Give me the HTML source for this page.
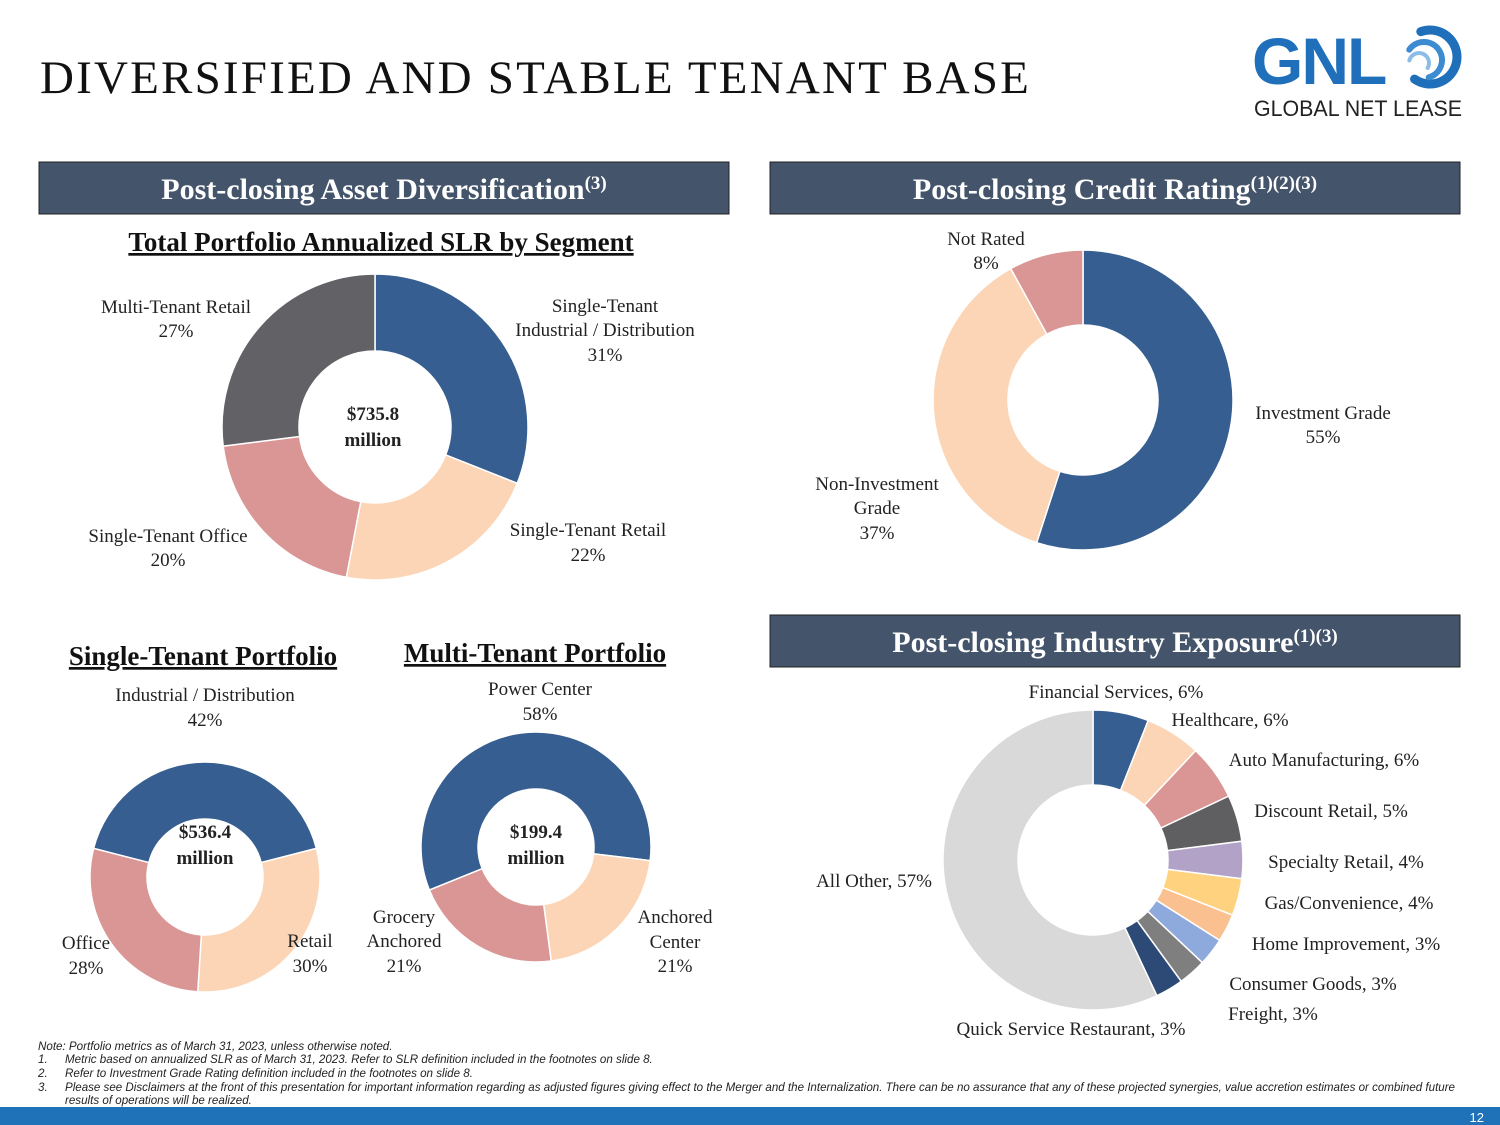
<!DOCTYPE html>
<html><head><meta charset="utf-8"><style>
html,body{margin:0;padding:0;background:#fff;}
svg{display:block;font-family:"Liberation Serif",serif;}
</style></head><body>
<svg id="s" width="1500" height="1125" viewBox="0 0 1500 1125">
<text x="40" y="93" font-size="47" fill="#111" letter-spacing="2.2">DIVERSIFIED AND STABLE TENANT BASE</text>
<g id="logo">
<text x="1252" y="84" font-family="Liberation Sans,sans-serif" font-weight="bold" font-size="66" fill="#1F6FBA" letter-spacing="-2">GNL</text>
<text x="1254" y="116" font-family="Liberation Sans,sans-serif" font-size="22" fill="#222" textLength="208" lengthAdjust="spacingAndGlyphs">GLOBAL NET LEASE</text>
</g>
<g>
<rect x="39" y="162" width="690" height="52" fill="#44546A" stroke="#222" stroke-width="1"/>
<text x="384" y="199" text-anchor="middle" font-size="30" font-weight="bold" fill="#fff">Post-closing Asset Diversification<tspan font-size="19" dy="-10">(3)</tspan></text>
</g>
<g>
<rect x="770" y="162" width="690" height="52" fill="#44546A" stroke="#222" stroke-width="1"/>
<text x="1115" y="199" text-anchor="middle" font-size="30" font-weight="bold" fill="#fff">Post-closing Credit Rating<tspan font-size="19" dy="-10">(1)(2)(3)</tspan></text>
</g>
<g>
<rect x="770" y="615" width="690" height="52" fill="#44546A" stroke="#222" stroke-width="1"/>
<text x="1115" y="652" text-anchor="middle" font-size="30" font-weight="bold" fill="#fff">Post-closing Industry Exposure<tspan font-size="19" dy="-10">(1)(3)</tspan></text>
</g>
<text x="381" y="251" text-anchor="middle" font-size="27" font-weight="bold" text-decoration="underline" fill="#111">Total Portfolio Annualized SLR by Segment</text>
<text x="203" y="665" text-anchor="middle" font-size="27" font-weight="bold" text-decoration="underline" fill="#111">Single-Tenant Portfolio</text>
<text x="535" y="662" text-anchor="middle" font-size="27" font-weight="bold" text-decoration="underline" fill="#111">Multi-Tenant Portfolio</text>
<g id="charts"></g>
<g font-size="19" fill="#222">
<text x="605" y="312" text-anchor="middle">Single-Tenant</text><text x="605" y="336" text-anchor="middle">Industrial / Distribution</text><text x="605" y="361" text-anchor="middle">31%</text>
<text x="588" y="536" text-anchor="middle">Single-Tenant Retail</text><text x="588" y="561" text-anchor="middle">22%</text>
<text x="168" y="542" text-anchor="middle">Single-Tenant Office</text><text x="168" y="566" text-anchor="middle">20%</text>
<text x="176" y="313" text-anchor="middle">Multi-Tenant Retail</text><text x="176" y="337" text-anchor="middle">27%</text>
<text x="373" y="420" text-anchor="middle" font-weight="bold">$735.8</text><text x="373" y="446" text-anchor="middle" font-weight="bold">million</text>
<text x="986" y="245" text-anchor="middle">Not Rated</text><text x="986" y="269" text-anchor="middle">8%</text>
<text x="1323" y="419" text-anchor="middle">Investment Grade</text><text x="1323" y="443" text-anchor="middle">55%</text>
<text x="877" y="490" text-anchor="middle">Non-Investment</text><text x="877" y="514" text-anchor="middle">Grade</text><text x="877" y="539" text-anchor="middle">37%</text>
<text x="205" y="701" text-anchor="middle">Industrial / Distribution</text><text x="205" y="726" text-anchor="middle">42%</text>
<text x="310" y="947" text-anchor="middle">Retail</text><text x="310" y="972" text-anchor="middle">30%</text>
<text x="86" y="949" text-anchor="middle">Office</text><text x="86" y="974" text-anchor="middle">28%</text>
<text x="205" y="838" text-anchor="middle" font-weight="bold">$536.4</text><text x="205" y="864" text-anchor="middle" font-weight="bold">million</text>
<text x="540" y="695" text-anchor="middle">Power Center</text><text x="540" y="720" text-anchor="middle">58%</text>
<text x="404" y="923" text-anchor="middle">Grocery</text><text x="404" y="947" text-anchor="middle">Anchored</text><text x="404" y="972" text-anchor="middle">21%</text>
<text x="675" y="923" text-anchor="middle">Anchored</text><text x="675" y="948" text-anchor="middle">Center</text><text x="675" y="972" text-anchor="middle">21%</text>
<text x="536" y="838" text-anchor="middle" font-weight="bold">$199.4</text><text x="536" y="864" text-anchor="middle" font-weight="bold">million</text>
</g>
<g font-size="19" fill="#222" id="indLabels"></g>
<g font-family="Liberation Sans,sans-serif" font-style="italic" font-size="11.6" fill="#222">
<text x="38" y="1050">Note: Portfolio metrics as of March 31, 2023, unless otherwise noted.</text>
<text x="38" y="1063">1.</text><text x="65" y="1063">Metric based on annualized SLR as of March 31, 2023. Refer to SLR definition included in the footnotes on slide 8.</text>
<text x="38" y="1077">2.</text><text x="65" y="1077">Refer to Investment Grade Rating definition included in the footnotes on slide 8.</text>
<text x="38" y="1091">3.</text><text x="65" y="1091" textLength="1390" lengthAdjust="spacingAndGlyphs">Please see Disclaimers at the front of this presentation for important information regarding as adjusted figures giving effect to the Merger and the Internalization. There can be no assurance that any of these projected synergies, value accretion estimates or combined future</text>
<text x="65" y="1104">results of operations will be realized.</text>
</g>
<rect x="0" y="1107" width="1500" height="18" fill="#1F72B8"/>
<text x="1484" y="1122" text-anchor="end" font-family="Liberation Sans,sans-serif" font-size="13" fill="#fff">12</text>
</svg>
<script>
const segmentNames = ["Single-Tenant Industrial / Distribution","Single-Tenant Retail","Single-Tenant Office","Multi-Tenant Retail"];
const segmentValues = [31,22,20,27];
const creditNames = ["Investment Grade","Non-Investment Grade","Not Rated"];
const creditValues = [55,37,8];
const singleNames = ["Industrial / Distribution","Retail","Office"];
const singleValues = [42,30,28];
const multiNames = ["Power Center","Anchored Center","Grocery Anchored"];
const multiValues = [58,21,21];
const industryNames = ["Financial Services","Healthcare","Auto Manufacturing","Discount Retail","Specialty Retail","Gas/Convenience","Home Improvement","Consumer Goods","Freight","Quick Service Restaurant","All Other"];
const industryValues = [6,6,6,5,4,4,3,3,3,3,57];

const NS="http://www.w3.org/2000/svg";
const g=document.getElementById('charts');
function pt(cx,cy,r,a){const t=a*Math.PI/180;return [cx+r*Math.sin(t),cy-r*Math.cos(t)];}
// logo arcs
const logo=document.getElementById('logo');
[[1430,57,27,-20,215,9,'#1F6FBA'],[1424,60,18,-55,165,6,'#3D8BD0'],[1419,63,10,-75,120,4,'#8DBDE6']].forEach(a=>{
  const p1=pt(a[0],a[1],a[2],a[3]),p2=pt(a[0],a[1],a[2],a[4]);
  const p=document.createElementNS(NS,'path');
  p.setAttribute('d',`M${p1[0]} ${p1[1]}A${a[2]} ${a[2]} 0 ${a[4]-a[3]>180?1:0} 1 ${p2[0]} ${p2[1]}`);
  p.setAttribute('fill','none');p.setAttribute('stroke',a[6]);p.setAttribute('stroke-width',a[5]);p.setAttribute('stroke-linecap','round');
  
  
  logo.appendChild(p);
});
function donut(name,names,vals,colors,cx,cy,ro,ri,start){
  const grp=document.createElementNS(NS,'g');
  
  
  const tot=vals.reduce((a,b)=>a+b,0);let a=start;
  vals.forEach((v,i)=>{
    const sw=v/tot*360,b=a+sw,l=sw>180?1:0;
    const p1=pt(cx,cy,ro,a),p2=pt(cx,cy,ro,b),p3=pt(cx,cy,ri,b),p4=pt(cx,cy,ri,a);
    const p=document.createElementNS(NS,'path');
    p.setAttribute('d',`M${p1[0]} ${p1[1]}A${ro} ${ro} 0 ${l} 1 ${p2[0]} ${p2[1]}L${p3[0]} ${p3[1]}A${ri} ${ri} 0 ${l} 0 ${p4[0]} ${p4[1]}Z`);
    p.setAttribute('fill',colors[i]);p.setAttribute('stroke','#fff');p.setAttribute('stroke-width','1.5');
    
    
    grp.appendChild(p);a=b;
  });
  g.appendChild(grp);
}
donut('segment-donut',segmentNames,segmentValues,['#365E91','#FBD5B5','#D99694','#616166'],375,427,153,76,0);
donut('credit-donut',creditNames,creditValues,['#365E91','#FBD5B5','#D99694'],1083,400,150,75,0);
donut('single-tenant-donut',singleNames,singleValues,['#365E91','#FBD5B5','#D99694'],205,877,115,58,-singleValues[0]/2*3.6);
donut('multi-tenant-donut',multiNames,multiValues,['#365E91','#FBD5B5','#D99694'],536,847,115,58,-112);
donut('industry-donut',industryNames,industryValues,['#365E91','#FBD5B5','#D99694','#5F5F62','#B3A2C7','#FFD27F','#FAC090','#8EA9DB','#7F7F7F','#2C4A75','#D9D9D9'],1093,860,150,75,0);
const labelPos=[[1116,698,'middle'],[1230,726,'middle'],[1324,766,'middle'],[1331,817,'middle'],[1346,868,'middle'],[1349,909,'middle'],[1346,950,'middle'],[1313,990,'middle'],[1273,1020,'middle'],[1071,1035,'middle'],[874,887,'middle']];
const L=document.getElementById('indLabels');
industryNames.forEach((n,i)=>{
  const t=document.createElementNS(NS,'text');
  t.setAttribute('x',labelPos[i][0]);t.setAttribute('y',labelPos[i][1]);t.setAttribute('text-anchor',labelPos[i][2]);
  t.textContent=n+', '+industryValues[i]+'%';
  
  
  L.appendChild(t);
});
</script>
</body></html>
